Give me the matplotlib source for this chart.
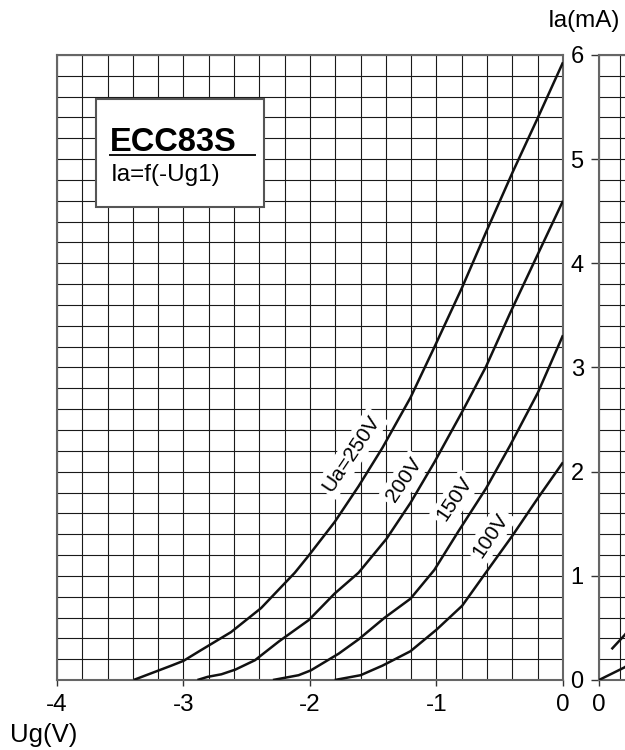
import matplotlib
matplotlib.use("Agg")
import matplotlib.pyplot as plt
from matplotlib.patches import Rectangle
from matplotlib.lines import Line2D
import numpy as np

plt.rcParams['font.family'] = ['Liberation Sans', 'DejaVu Sans']
plt.rcParams['axes.unicode_minus'] = False

# Kennlinien Ia = f(-Ug1)
ug_250 = [-3.395, -3.096, -3.0, -2.876, -2.624, -2.387, -2.12, -2.01, -1.805, -1.616,
          -1.427, -1.206, -1.017, -0.797, -0.608, -0.4, -0.198, 0.0]
ia_250 = [0.0, 0.138, 0.184, 0.276, 0.46, 0.69, 1.03, 1.195, 1.517, 1.86,
          2.23, 2.71, 3.195, 3.77, 4.3, 4.87, 5.4, 5.93]

ug_200 = [-2.89, -2.81, -2.70, -2.59, -2.435, -2.246, -2.01, -1.805, -1.616, -1.395,
          -1.206, -1.017, -0.797, -0.608, -0.419, -0.198, 0.0]
ia_200 = [0.0, 0.03, 0.055, 0.10, 0.19, 0.37, 0.575, 0.83, 1.03, 1.356,
          1.70, 2.09, 2.575, 3.01, 3.52, 4.09, 4.6]

ug_150 = [-2.293, -2.09, -1.994, -1.773, -1.616, -1.41, -1.206, -1.017, -0.828, -0.608,
          -0.419, -0.198, 0.0]
ia_150 = [0.0, 0.046, 0.092, 0.253, 0.39, 0.598, 0.78, 1.057, 1.425, 1.84,
          2.25, 2.76, 3.31]

ug_100 = [-1.805, -1.6, -1.427, -1.206, -1.0, -0.797, -0.608, -0.403, -0.198, 0.0]
ia_100 = [0.0, 0.046, 0.138, 0.276, 0.483, 0.713, 1.034, 1.38, 1.747, 2.09]

curve_labels = ['Ua=250V', '200V', '150V', '100V']
label_ug = [-1.67, -1.257, -0.854, -0.572]
label_ia = [2.176, 1.92, 1.737, 1.39]

# Anschnitt des Nachbardiagramms (rechts)
ua_right_a = [0.0, 24.8, 50.0]
ia_right_a = [0.0, 0.122, 0.30]
ua_right_b = [12.9, 24.8, 50.0]
ia_right_b = [0.304, 0.432, 0.75]

x_ticks = [-4, -3, -2, -1, 0]
y_ticks = [0, 1, 2, 3, 4, 5, 6]

W, H = 625, 750
fig = plt.figure(figsize=(6.25, 7.5), dpi=100)

def fig_rect(x0, y0, x1, y1):
    # Pixelbox -> Figure-Koordinaten
    return [x0 / W, 1 - y1 / H, (x1 - x0) / W, (y1 - y0) / H]

grid_kw = dict(color='#1a1a1a', linewidth=0.8)

# Hauptdiagramm
ax = fig.add_axes(fig_rect(57, 55, 563, 680))
ax.set_xlim(-4, 0)
ax.set_ylim(0, 6)
ax.set_xticks(x_ticks)
ax.set_xticks(np.arange(-4, 0.01, 0.2), minor=True)
ax.set_yticks(y_ticks)
ax.set_yticks(np.arange(0, 6.01, 0.2), minor=True)
ax.grid(True, which='both', **grid_kw)
ax.set_axisbelow(True)
ax.tick_params(axis='x', which='major', direction='out', length=4, width=1,
               labelsize=17.5, pad=6, color='#333333')
ax.tick_params(axis='x', which='minor', length=0)
ax.tick_params(axis='y', which='both', length=0, labelleft=False)
for s in ax.spines.values():
    s.set_color('#666666')
    s.set_linewidth(1.5)

for ug, ia in [(ug_250, ia_250), (ug_200, ia_200), (ug_150, ia_150), (ug_100, ia_100)]:
    ax.plot(ug, ia, color='#111111', linewidth=1.8, zorder=4, solid_capstyle='butt')

for lab, lx, ly in zip(curve_labels, label_ug, label_ia):
    ax.text(lx, ly, lab, rotation=56, fontsize=15, ha='center', va='center',
            rotation_mode='anchor', zorder=3,
            bbox=dict(facecolor='white', edgecolor='none', pad=2.5))

# Rechtes Nachbardiagramm (nur Anschnitt sichtbar)
ax2 = fig.add_axes(fig_rect(599, 55, 599 + 310.5, 680))
ax2.set_xlim(0, 300)
ax2.set_ylim(0, 6)
ax2.set_xticks([0])
ax2.set_xticks(np.arange(0, 301, 20), minor=True)
ax2.set_yticks(y_ticks)
ax2.set_yticks(np.arange(0, 6.01, 0.2), minor=True)
ax2.grid(True, which='both', **grid_kw)
ax2.set_axisbelow(True)
ax2.tick_params(axis='x', which='major', direction='out', length=4, width=1,
                labelsize=17.5, pad=6, color='#333333')
ax2.tick_params(axis='x', which='minor', length=0)
ax2.tick_params(axis='y', which='major', direction='out', length=6, width=1,
                labelsize=17, pad=5, color='#333333')
ax2.tick_params(axis='y', which='minor', length=0)
for s in ax2.spines.values():
    s.set_color('#666666')
    s.set_linewidth(1.5)
ax2.plot(ua_right_a, ia_right_a, color='#111111', linewidth=1.8, zorder=4)
ax2.plot(ua_right_b, ia_right_b, color='#111111', linewidth=1.8, zorder=4)

# Achsentitel
fig.text(584 / W, 1 - 21 / H, 'Ia(mA)', fontsize=17.5, ha='center', va='center')
fig.text(10 / W, 1 - 735 / H, 'Ug(V)', fontsize=18.5, ha='left', va='center')

# Typenkasten
box = Rectangle((96 / W, 1 - 207 / H), (264 - 96) / W, (207 - 99) / H,
                transform=fig.transFigure, facecolor='white', edgecolor='#555555',
                linewidth=1.5, zorder=5)
fig.patches.append(box)
fig.text(110 / W, 1 - 142.5 / H, 'ECC83S', fontsize=23.5, fontweight='bold',
         ha='left', va='center', zorder=6)
fig.lines.append(Line2D([110 / W, 255 / W], [1 - 154.5 / H, 1 - 154.5 / H],
                        transform=fig.transFigure, color='#111111', linewidth=1.4,
                        zorder=6))
fig.text(111 / W, 1 - 175 / H, 'Ia=f(-Ug1)', fontsize=17.5, ha='left', va='center',
         zorder=6)

fig.savefig('out.png', dpi=100)
